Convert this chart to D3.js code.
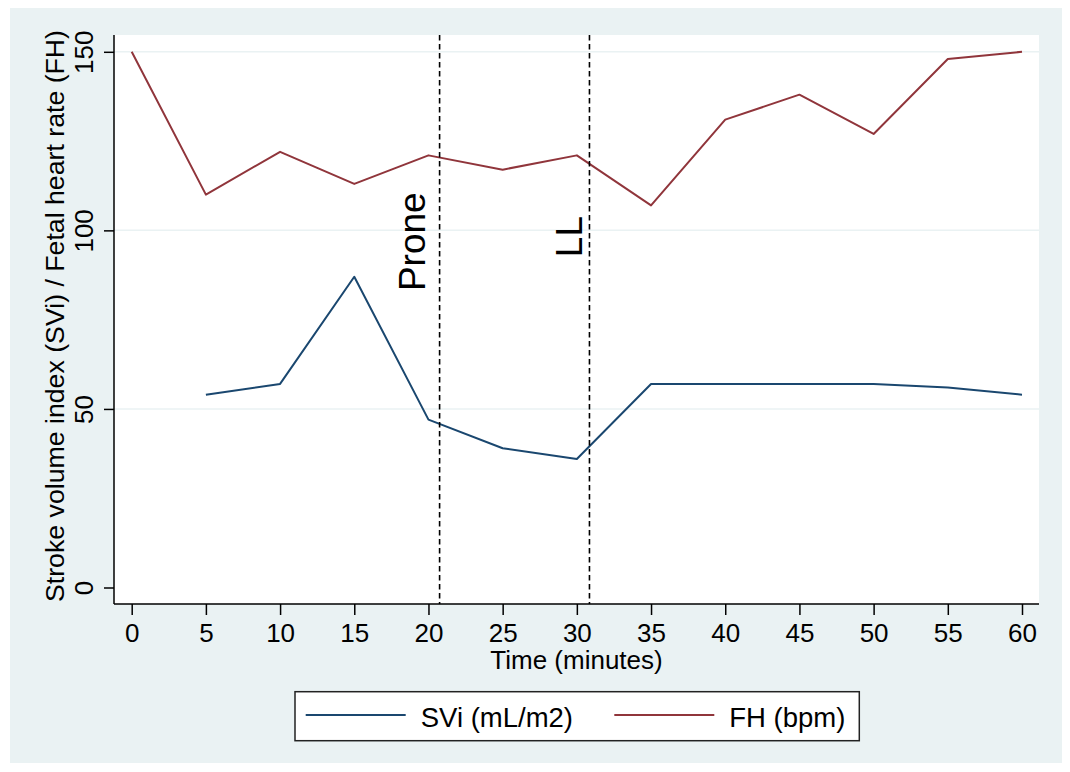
<!DOCTYPE html>
<html>
<head>
<meta charset="utf-8">
<script src="https://cdn.jsdelivr.net/npm/d3@7"></script>
<style>
    body { margin: 0; background: #fff; }
    text { font-family: "Liberation Sans", Arial, Helvetica, sans-serif; fill: #000; }
</style>
</head>
<body>
<div id="chart"></div>
<script>
// data
const minutes = [0, 5, 10, 15, 20, 25, 30, 35, 40, 45, 50, 55, 60];
const sviValues = [null, 54, 57, 87, 47, 39, 36, 57, 57, 57, 57, 56, 54];
const fhValues = [150, 110, 122, 113, 121, 117, 121, 107, 131, 138, 127, 148, 150];
const seriesNames = ["SVi (mL/m2)", "FH (bpm)"];
const seriesColors = ["#1a476f", "#90353b"];
const xTicks = [0, 5, 10, 15, 20, 25, 30, 35, 40, 45, 50, 55, 60];
const yTicks = [0, 50, 100, 150];
const yGrid = [50, 100, 150];
const eventNames = ["Prone", "LL"];
const eventTimes = [20.75, 30.85];
const eventLabelX = [19.75, 30.33];
const eventLabelY = [83, 92.5];
const xTitle = "Time (minutes)";
const yTitle = "Stroke volume index (SVi) / Fetal heart rate (FH)";

let width = 1070, height = 772;
let plot = {left: 114, right: 1039, top: 35, bottom: 604};

var svg = d3.select("#chart").append("svg")
    .attr("width", width)
    .attr("height", height);

// graph region (stata s2color)
svg.append("rect")
    .attr("x", 10).attr("y", 8)
    .attr("width", 1052).attr("height", 755)
    .attr("fill", "#eaf2f3");

svg.append("rect")
    .attr("x", plot.left).attr("y", plot.top)
    .attr("width", plot.right - plot.left).attr("height", plot.bottom - plot.top)
    .attr("fill", "#fff");

var x = d3.scaleLinear().domain([0, 60]).range([131.7, 1022]);
var y = d3.scaleLinear().domain([0, 150]).range([587.5, 51.8]);

// grid
svg.append("g").selectAll("line")
    .data(yGrid)
    .join("line")
    .attr("x1", plot.left).attr("x2", plot.right)
    .attr("y1", d => y(d)).attr("y2", d => y(d))
    .attr("stroke", "#eaf2f3")
    .attr("stroke-width", 1.5);

// series
let line = d3.line()
    .defined(d => d[1] != null)
    .x(d => x(d[0]))
    .y(d => y(d[1]));

[sviValues, fhValues].forEach((vals, i) => {
    svg.append("path")
        .datum(minutes.map((m, j) => [m, vals[j]]))
        .attr("d", line)
        .attr("fill", "none")
        .attr("stroke", seriesColors[i])
        .attr("stroke-width", 2)
        .attr("stroke-linejoin", "round");
});

// event lines + labels
svg.append("g").selectAll("line")
    .data(eventTimes)
    .join("line")
    .attr("x1", d => x(d)).attr("x2", d => x(d))
    .attr("y1", plot.top).attr("y2", plot.bottom)
    .attr("stroke", "#000")
    .attr("stroke-width", 1.6)
    .attr("stroke-dasharray", "5.5,3.5");

svg.append("g").selectAll("text")
    .data(eventNames)
    .join("text")
    .attr("transform", (d, i) => `translate(${x(eventLabelX[i])},${y(eventLabelY[i])}) rotate(-90)`)
    .style("font-size", "37px")
    .text(d => d);

// axes
var xAxis = d3.axisBottom(x).tickValues(xTicks).tickSize(11).tickPadding(8);
var gx = svg.append("g")
    .attr("transform", `translate(0,${plot.bottom})`)
    .call(xAxis);
gx.select(".domain").attr("d", `M${plot.left},0H${plot.right}`);

var yAxis = d3.axisLeft(y).tickValues(yTicks).tickSize(10);
var gy = svg.append("g")
    .attr("transform", `translate(${plot.left},0)`)
    .call(yAxis);
gy.select(".domain").attr("d", `M0,${plot.top}V${plot.bottom}`);

svg.selectAll(".domain, .tick line")
    .attr("stroke", "#000")
    .attr("stroke-width", 1.5);

gx.selectAll(".tick text")
    .attr("y", null).attr("dy", null)
    .attr("transform", "translate(0,37.7)")
    .attr("fill", "#000")
    .style("font-size", "26px")
    .style("font-family", null);

gy.selectAll(".tick text")
    .attr("x", null).attr("dy", null)
    .attr("transform", "translate(-20.7,0) rotate(-90)")
    .attr("text-anchor", "middle")
    .attr("fill", "#000")
    .style("font-size", "26px")
    .style("font-family", null);
gx.attr("font-family", null).attr("font-size", null);
gy.attr("font-family", null).attr("font-size", null);

// titles
svg.append("text")
    .attr("x", (plot.left + plot.right) / 2)
    .attr("y", 669)
    .attr("text-anchor", "middle")
    .style("font-size", "26px")
    .text(xTitle);

svg.append("text")
    .attr("transform", `translate(64,316) rotate(-90)`)
    .attr("text-anchor", "middle")
    .style("font-size", "26.7px")
    .text(yTitle);

// legend
var legend = svg.append("g");
legend.append("rect")
    .attr("x", 295).attr("y", 691.7)
    .attr("width", 564.3).attr("height", 49)
    .attr("fill", "#fff")
    .attr("stroke", "#222")
    .attr("stroke-width", 1.5);

let legendX = [305.7, 614.3];
var item = legend.selectAll("g")
    .data(seriesNames)
    .join("g")
    .attr("transform", (d, i) => `translate(${legendX[i]},715)`);

item.append("line")
    .attr("x1", 0).attr("x2", 100)
    .attr("stroke", (d, i) => seriesColors[i])
    .attr("stroke-width", 2);

item.append("text")
    .attr("x", 115)
    .attr("y", 11.5)
    .style("font-size", "27.5px")
    .text(d => d);
</script>
</body>
</html>
